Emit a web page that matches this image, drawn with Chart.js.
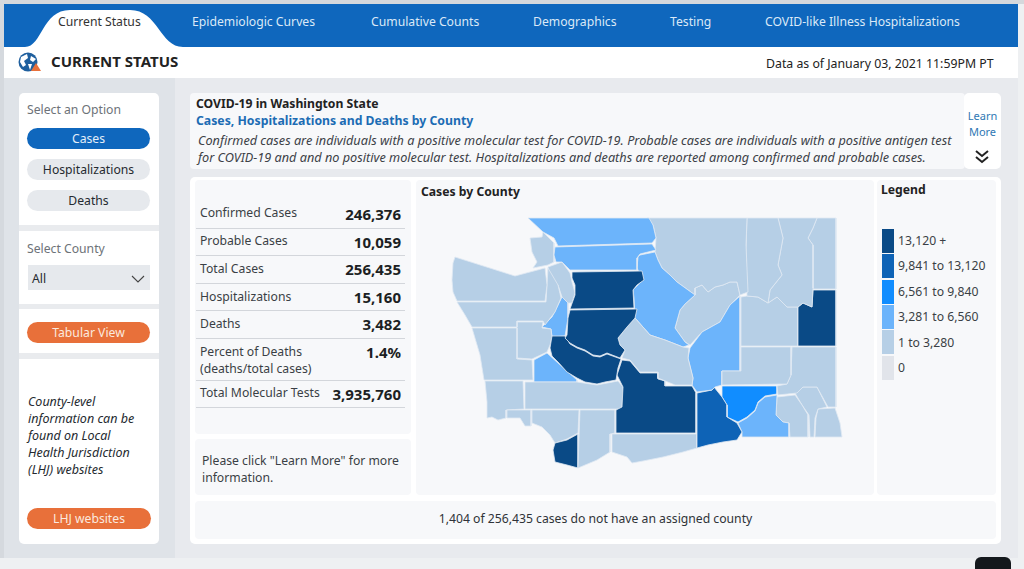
<!DOCTYPE html>
<html>

<head>
    <title>Current Status</title>
    <meta charset="UTF-8">
    <script src="https://cdn.jsdelivr.net/npm/chart.js@4"></script>
    <style>
        html, body { margin: 0; padding: 0; width: 1024px; height: 569px; overflow: hidden; background: #eef0f2; }
        body, div { font-family: "Noto Sans", sans-serif; color: #252a30; }
        .box { position: absolute; box-sizing: border-box; }
        .txt { position: absolute; white-space: nowrap; font-size: 12.2px; line-height: 17px; }
        .tab { position: absolute; top: 13px; color: #dbe9f7; font-size: 12.2px; line-height: 18px; white-space: nowrap; }
        .pill { position: absolute; border-radius: 11px; text-align: center; font-size: 12.2px; line-height: 21px; }
        .card { position: absolute; background: #fff; border-radius: 5px; }
        .gap { position: absolute; left: 19px; width: 140px; background: #e9ebee; }
        .panel { position: absolute; background: #f7f8fa; border-radius: 4px; }
        .rule { position: absolute; left: 196px; width: 209px; height: 1px; background: #d3d6db; }
        .kpi { position: absolute; left: 200px; font-size: 12.2px; line-height: 17px; color: #3a3f45; white-space: nowrap; }
        .val { position: absolute; right: 623px; font-size: 15px; line-height: 20px; font-weight: 700; color: #1c1f23; white-space: nowrap; }
        .swatch { position: absolute; left: 882px; width: 12px; height: 24px; }
        .leg { position: absolute; left: 898px; font-size: 12.2px; line-height: 17px; color: #3a3f45; white-space: nowrap; }
    </style>
</head>

<body>
    <div class="box" style="left:0;top:0;width:1024px;height:4px;background:#d5d8dc"></div>
    <div class="box" style="left:0;top:0;width:4px;height:558px;background:#d5d9de"></div>
    <div class="box" style="left:4px;top:4px;width:1014px;height:43px;background:#0f67bd"></div>
    <div class="box" style="left:4px;top:47px;width:1014px;height:31px;background:#fff"></div>
    <div class="box" style="left:4px;top:78px;width:171px;height:480px;background:#dfe3e8"></div>
    <div class="box" style="left:175px;top:78px;width:843px;height:480px;background:#e8eaee"></div>

    <svg class="box" style="left:0;top:0" width="200" height="80">
        <path d="M25 47 C42 47 42 10 70 10 L130 10 C158 10 160 47 183 47 Z" fill="#fff"/>
        <circle cx="28" cy="62" r="9.5" fill="#1f5f9e"/>
        <path d="M21 57 L27 54 L28 58 L24 61 L26 65 L23 67 L20 62 Z M31 56 L36 59 L33 62 L30 60 Z M28 64 L32 64 L30 70 Z" fill="#fff"/>
        <path d="M36 63 L41 71 L31 71 Z" fill="#e8703a"/>
    </svg>
    <div class="tab" style="left:58px;color:#333">Current Status</div>
    <div class="tab" style="left:192px">Epidemiologic Curves</div>
    <div class="tab" style="left:371px">Cumulative Counts</div>
    <div class="tab" style="left:533px">Demographics</div>
    <div class="tab" style="left:670px">Testing</div>
    <div class="tab" style="left:765px">COVID-like Illness Hospitalizations</div>
    <div class="txt" style="left:51px;top:51px;font-size:15px;line-height:20px;font-weight:700;color:#222">CURRENT STATUS</div>
    <div class="txt" style="left:766px;top:55px;font-size:12.3px;color:#222">Data as of January 03, 2021 11:59PM PT</div>

    <div class="card" style="left:19px;top:93px;width:140px;height:451px"></div>
    <div class="gap" style="top:225px;height:6px"></div>
    <div class="gap" style="top:304px;height:5px"></div>
    <div class="gap" style="top:353px;height:6px"></div>
    <div class="txt" style="left:27px;top:101px;color:#6d7278">Select an Option</div>
    <div class="pill" style="left:27px;top:128px;width:123px;background:#0f67bd;color:#e3eef9">Cases</div>
    <div class="pill" style="left:27px;top:159px;width:123px;background:#e6e9ed">Hospitalizations</div>
    <div class="pill" style="left:27px;top:190px;width:123px;background:#e6e9ed">Deaths</div>
    <div class="txt" style="left:27px;top:240px;color:#6d7278">Select County</div>
    <div class="box" style="left:28px;top:265px;width:122px;height:25px;background:#e6e9ed"></div>
    <div class="txt" style="left:32px;top:270px">All</div>
    <svg class="box" style="left:131px;top:274px" width="15" height="10"><path d="M1 2 L7 8 L13 2" fill="none" stroke="#444" stroke-width="1.1"/></svg>
    <div class="pill" style="left:27px;top:322px;width:123px;background:#e8703a;color:#fbe9df">Tabular View</div>
    <div class="txt" style="left:28px;top:393px;font-size:12.5px;font-style:italic">County-level<br>information can be<br>found on Local<br>Health Jurisdiction<br>(LHJ) websites</div>
    <div class="pill" style="left:27px;top:508px;width:124px;background:#e8703a;color:#fbe9df">LHJ websites</div>

    <div class="panel" style="left:190px;top:93px;width:775px;height:76px"></div>
    <div class="card" style="left:964px;top:93px;width:37px;height:76px"></div>
    <div class="txt" style="left:196px;top:95px;font-weight:700;color:#222">COVID-19 in Washington State</div>
    <div class="txt" style="left:196px;top:112px;font-size:12.25px;font-weight:700;color:#1c6cb4">Cases, Hospitalizations and Deaths by County</div>
    <div class="txt" id="blurb" style="left:198px;top:132px;font-size:12.7px;font-style:italic;color:#3c4147">Confirmed cases are individuals with a positive molecular test for COVID-19. Probable cases are individuals with a positive antigen test<br>for COVID-19 and and no positive molecular test. Hospitalizations and deaths are reported among confirmed and probable cases.</div>
    <div class="txt" style="left:964px;top:108px;width:37px;text-align:center;font-size:11px;line-height:16px;color:#2f78b4;white-space:normal">Learn More</div>
    <svg class="box" style="left:974px;top:149px" width="16" height="15"><path d="M2 2 L8 7 L14 2 M2 8 L8 13 L14 8" fill="none" stroke="#222" stroke-width="2"/></svg>

    <div class="card" style="left:190px;top:177px;width:811px;height:367px"></div>
    <div class="panel" style="left:195px;top:180px;width:216px;height:254px"></div>
    <div class="panel" style="left:195px;top:439px;width:216px;height:56px"></div>
    <div class="panel" style="left:416px;top:180px;width:458px;height:315px"></div>
    <div class="panel" style="left:877px;top:180px;width:119px;height:315px"></div>
    <div class="panel" style="left:195px;top:501px;width:801px;height:38px"></div>
    <div id="kpis"></div>
    <div class="txt" style="left:202px;top:452px;color:#3a3f45">Please click "Learn More" for more<br>information.</div>
    <div class="txt" style="left:421px;top:183px;font-weight:700;color:#222">Cases by County</div>
    <div class="txt" style="left:881px;top:181px;font-weight:700;color:#222">Legend</div>
    <div id="legend"></div>
    <div class="txt" style="left:195px;top:510px;width:801px;text-align:center;color:#2f3338">1,404 of 256,435 cases do not have an assigned county</div>

    <div class="box" style="left:416px;top:205px;width:458px;height:270px">
        <canvas id="map" width="458" height="270"></canvas>
    </div>
    <div class="box" style="left:975px;top:557px;width:36px;height:14px;background:#14181c;border-radius:6px 6px 0 0"></div>

    <script>
        // summary table
        const kpiLabels = ['Confirmed Cases', 'Probable Cases', 'Total Cases', 'Hospitalizations', 'Deaths', 'Percent of Deaths<br>(deaths/total cases)', 'Total Molecular Tests'];
        const kpiValues = ['246,376', '10,059', '256,435', '15,160', '3,482', '1.4%', '3,935,760'];

        // legend bands, darkest first
        const bandLabels = ['13,120 +', '9,841 to 13,120', '6,561 to 9,840', '3,281 to 6,560', '1 to 3,280', '0'];
        const bandColors = ['#0a4a86', '#0e63b6', '#118dff', '#6cb4fb', '#b6cfe6', '#e1e4ea'];

        // county outlines in map units
        const whatcom = [[528,218],[649,218],[653,225],[656,238],[652,243],[558,246],[554,238],[543,232]];
        const skagit = [[555,247],[652,244],[656,250],[640,254],[637,258],[637,270],[570,270],[562,262],[556,262],[554,255]];
        const snohomish = [[572,272],[642,271],[644,280],[637,285],[633,290],[634,308],[570,309],[575,295],[575,285],[572,278]];
        const king = [[570,310],[637,309],[635,318],[627,327],[618,338],[620,345],[625,350],[620,358],[607,353],[600,356],[593,355],[585,350],[577,347],[570,343],[565,338],[567,335],[568,318]];
        const pierce = [[552,336],[565,336],[570,344],[577,348],[585,351],[593,356],[600,357],[607,354],[621,359],[618,368],[616,380],[605,382],[597,384],[585,382],[577,378],[567,372],[558,362],[552,356],[550,348]];
        const kittitas = [[618,338],[620,345],[625,350],[622,358],[630,360],[640,372],[658,372],[658,378],[675,385],[692,385],[693,378],[688,358],[689,348],[683,347],[665,340],[650,335],[635,318],[627,327]];
        const yakima = [[622,360],[630,361],[640,373],[658,373],[658,379],[665,381],[665,386],[692,386],[696,393],[696,433],[616,433],[616,410],[622,407],[623,387],[617,375]];
        const chelan = [[640,255],[655,252],[658,260],[662,268],[670,275],[677,282],[695,295],[685,304],[680,310],[675,328],[685,342],[689,345],[683,347],[665,340],[650,335],[635,318],[634,298],[633,290],[643,280],[637,268],[638,257]];
        const okanogan = [[647,218],[747,218],[746,245],[748,292],[740,295],[737,282],[730,282],[723,285],[715,287],[708,292],[702,285],[695,288],[695,295],[677,282],[670,275],[662,268],[658,260],[655,252],[656,238],[653,225]];
        const ferry = [[747,218],[778,218],[783,238],[778,265],[782,275],[770,290],[768,303],[758,297],[747,296],[746,248]];
        const stevens = [[778,218],[817,218],[813,228],[808,238],[813,245],[813,288],[812,307],[803,303],[798,307],[787,307],[777,297],[768,303],[770,290],[782,275],[778,265],[783,238]];
        const pendOreille = [[817,218],[836,218],[836,289],[813,289],[813,245],[808,238],[813,228]];
        const spokane = [[813,290],[836,290],[836,346],[798,346],[798,307],[803,303],[812,307]];
        const lincoln = [[741,297],[747,296],[758,297],[768,303],[777,297],[787,307],[798,307],[798,346],[741,346]];
        const adams = [[741,347],[791,347],[791,375],[787,384],[722,385],[722,371],[741,371]];
        const whitman = [[792,347],[836,347],[836,407],[828,407],[817,387],[803,387],[797,393],[778,395],[777,386],[787,384],[791,375]];
        const grant = [[740,296],[740,371],[722,371],[722,385],[715,387],[712,390],[697,392],[692,385],[693,378],[688,358],[690,348],[702,332],[720,322],[730,305]];
        const douglas = [[695,295],[695,288],[702,285],[708,292],[715,287],[723,285],[730,282],[737,282],[740,295],[730,305],[720,322],[702,332],[690,345],[685,342],[675,328],[680,310],[685,304]];
        const benton = [[697,393],[712,390],[714,387],[722,397],[727,405],[727,417],[737,423],[742,432],[737,440],[723,442],[708,445],[697,448]];
        const franklin = [[722,386],[777,386],[777,394],[765,396],[758,402],[755,410],[747,417],[738,422],[727,417],[727,405],[722,397]];
        const wallaWalla = [[738,423],[747,418],[755,411],[758,403],[765,397],[777,395],[776,415],[783,422],[789,423],[789,437],[742,437],[742,432]];
        const columbia = [[777,397],[795,395],[802,405],[808,415],[808,437],[790,437],[789,423],[783,422],[776,415]];
        const garfield = [[795,393],[803,387],[817,387],[827,407],[818,409],[815,418],[814,437],[810,437],[809,415],[802,405]];
        const asotin = [[818,409],[835,408],[840,423],[842,437],[815,437],[816,418]];
        const klickitat = [[612,434],[697,434],[697,448],[683,452],[663,457],[643,461],[632,463],[627,457],[612,452]];
        const skamania = [[580,410],[615,410],[615,433],[610,434],[610,452],[597,460],[578,468]];
        const clark = [[578,434],[578,468],[567,465],[555,462],[553,450],[555,443],[567,440]];
        const cowlitz = [[532,410],[579,410],[578,433],[567,439],[555,443],[550,435],[542,427],[532,423]];
        const wahkiakum = [[507,410],[531,410],[531,426],[525,426],[520,418],[507,418]];
        const pacific = [[485,381],[523,381],[524,409],[506,410],[506,418],[498,420],[492,417],[487,418],[487,402]];
        const lewis = [[525,382],[577,382],[597,385],[618,381],[623,387],[622,409],[525,409]];
        const thurston = [[534,360],[547,353],[558,363],[577,380],[577,382],[534,382]];
        const graysHarbor = [[472,328],[517,328],[517,359],[532,360],[533,380],[484,380],[480,355]];
        const clallam = [[455,257],[515,276],[545,268],[547,285],[545,301],[457,301],[453,292],[452,280],[453,263]];
        const jefferson = [[457,302],[546,302],[548,268],[558,285],[561,298],[555,312],[545,325],[543,321],[517,321],[517,327],[472,327],[465,315]];
        const mason = [[517,322],[543,322],[542,328],[551,329],[552,337],[550,345],[547,352],[532,359],[517,358]];
        const kitsap = [[562,297],[568,303],[568,318],[565,336],[552,337],[551,329],[542,327],[552,317],[558,305]];
        const sanJuan = [[530,238],[542,237],[543,232],[554,243],[554,262],[548,265],[533,268],[537,262],[532,252]];
        const island = [[548,267],[562,262],[570,273],[572,282],[575,293],[572,303],[568,303],[562,297],[558,285],[552,282],[548,273]];

        // which legend band each county falls in
        const countyShapes = [whatcom, skagit, snohomish, king, pierce, kittitas, yakima, chelan, okanogan, ferry, stevens, pendOreille, spokane, lincoln, adams, whitman, grant, douglas, benton, franklin, wallaWalla, columbia, garfield, asotin, klickitat, skamania, clark, cowlitz, wahkiakum, pacific, lewis, thurston, graysHarbor, clallam, jefferson, mason, kitsap, sanJuan, island];
        const countyBands = [3, 3, 0, 0, 0, 4, 0, 3, 4, 4, 4, 4, 0, 4, 4, 4, 3, 4, 1, 2, 3, 4, 4, 4, 4, 4, 0, 4, 4, 4, 4, 3, 4, 4, 4, 4, 3, 4, 4];

        // table rows, y of text and rule are hand placed
        const kpiTops = [204, 232, 260, 288, 315, 343, 384];
        const valTops = [204, 232, 259, 287, 314, 342, 384];
        const ruleTops = [228, 255, 283, 310, 338, 380, 407];
        let kpiHtml = '';
        kpiLabels.forEach((label, i) => {
            kpiHtml += '<div class="kpi" style="top:' + kpiTops[i] + 'px">' + label + '</div>';
            kpiHtml += '<div class="val" style="top:' + valTops[i] + 'px">' + kpiValues[i] + '</div>';
            kpiHtml += '<div class="rule" style="top:' + ruleTops[i] + 'px"></div>';
        });
        document.getElementById('kpis').innerHTML = kpiHtml;

        let legendHtml = '';
        bandLabels.forEach((label, i) => {
            legendHtml += '<div class="swatch" style="top:' + (229 + i * 25.3) + 'px;background:' + bandColors[i] + '"></div>';
            legendHtml += '<div class="leg" style="top:' + (232 + i * 25.4) + 'px">' + label + '</div>';
        });
        document.getElementById('legend').innerHTML = legendHtml;

        const datasets = countyShapes.map((shape, i) => {
            const points = shape.map(p => ({ x: p[0], y: p[1] }));
            points.push(points[0]);
            return {
                data: points,
                showLine: true,
                fill: 'shape',
                backgroundColor: bandColors[countyBands[i]],
                borderColor: '#dfe9f3',
                borderWidth: 0.8,
                pointRadius: 0,
                tension: 0
            };
        });

        new Chart(document.getElementById('map').getContext('2d'), {
            type: 'scatter',
            data: { datasets: datasets },
            options: {
                responsive: false,
                animation: false,
                layout: { padding: 0 },
                plugins: { legend: { display: false }, tooltip: { enabled: false } },
                scales: {
                    x: { type: 'linear', min: 416, max: 874, display: false },
                    y: { type: 'linear', min: 205, max: 475, reverse: true, display: false }
                }
            }
        });
    </script>

</body>

</html>
